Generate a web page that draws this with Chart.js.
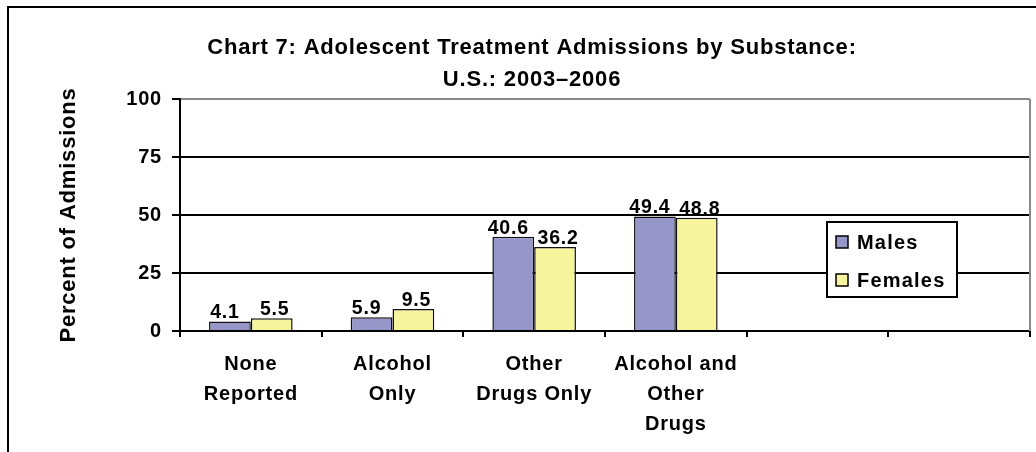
<!DOCTYPE html>
<html>
<head>
<meta charset="utf-8">
<title>Adolescent Treatment Admissions by Substance</title>
<script src="https://cdn.jsdelivr.net/npm/chart.js@4/dist/chart.umd.min.js"></script>
<style>
  html, body { margin: 0; padding: 0; background: #fff; overflow: hidden; }
  #wrap { position: relative; width: 1036px; height: 452px; }
  #frame {
    position: absolute; left: 7px; top: 6px; right: -10px; bottom: -10px;
    border-top: 2px solid #000; border-left: 2px solid #000;
  }
  #chart { position: absolute; left: 0; top: 0; }
</style>
</head>
<body>
<div id="wrap">
  <div id="frame"></div>
  <canvas id="chart" width="1036" height="452"></canvas>
</div>
<script>
// Substance categories (two empty slots on the right hold the legend)
const categories = [
  ['None', 'Reported'],
  ['Alcohol', 'Only'],
  ['Other', 'Drugs Only'],
  ['Alcohol and', 'Other', 'Drugs'],
  '',
  ''
];
const malesPct   = [4.1, 5.9, 40.6, 49.4, null, null];
const femalesPct = [5.5, 9.5, 36.2, 48.8, null, null];
const yTicks = [0, 25, 50, 75, 100];
const titleLines = ['Chart 7: Adolescent Treatment Admissions by Substance:', 'U.S.: 2003\u20132006'];
const yAxisTitle = 'Percent of Admissions';

const FONT = "'Liberation Sans', Arial, Helvetica, sans-serif";
const MALE_COLOR = '#9696C8';
const FEMALE_COLOR = '#F6F49C';
const TRACKING = '0.8px';

// Slightly tracked-out lettering for all chart text
const letterSpacingPlugin = {
  id: 'letterSpacing',
  beforeUpdate(chart) { chart.ctx.letterSpacing = TRACKING; },
  beforeDraw(chart) { chart.ctx.letterSpacing = TRACKING; }
};

// Gray plot-area border on the right side
const plotBorderPlugin = {
  id: 'plotBorder',
  beforeDatasetsDraw(chart) {
    const { ctx, chartArea } = chart;
    ctx.save();
    ctx.strokeStyle = '#8a8a8a';
    ctx.lineWidth = 2;
    ctx.beginPath();
    ctx.moveTo(chartArea.right, chartArea.top);
    ctx.lineTo(chartArea.right, chartArea.bottom);
    ctx.stroke();
    ctx.restore();
  }
};

// Value labels above each bar, nudged apart so neighbours don't collide
const valueLabelPlugin = {
  id: 'valueLabels',
  afterDatasetsDraw(chart, args, opts) {
    const { ctx } = chart;
    ctx.save();
    ctx.font = 'bold 19.5px ' + FONT;
    ctx.fillStyle = '#000';
    ctx.textAlign = 'center';
    ctx.textBaseline = 'alphabetic';
    chart.data.datasets.forEach((ds, di) => {
      const meta = chart.getDatasetMeta(di);
      const dx = opts.nudge[di] || 0;
      meta.data.forEach((bar, i) => {
        const v = ds.data[i];
        if (v === null || v === undefined) return;
        ctx.fillText(v.toFixed(1), bar.x + dx, bar.y - 3);
      });
    });
    ctx.restore();
  }
};

// Boxed legend placed inside the plot area
const boxLegendPlugin = {
  id: 'boxLegend',
  afterDraw(chart, args, opts) {
    const { ctx } = chart;
    const { x, y, w, h, rowGap } = opts;
    ctx.save();
    ctx.fillStyle = '#fff';
    ctx.fillRect(x, y, w, h);
    ctx.strokeStyle = '#000';
    ctx.lineWidth = 2;
    ctx.strokeRect(x, y, w, h);
    ctx.letterSpacing = '1.2px';
    ctx.font = 'bold 20px ' + FONT;
    ctx.textBaseline = 'middle';
    ctx.textAlign = 'left';
    chart.data.datasets.forEach((ds, i) => {
      const cy = y + 20 + i * rowGap;
      ctx.fillStyle = ds.backgroundColor;
      ctx.fillRect(x + 9, cy - 6, 12, 12);
      ctx.lineWidth = 1.5;
      ctx.strokeStyle = '#000';
      ctx.strokeRect(x + 9, cy - 6, 12, 12);
      ctx.fillStyle = '#000';
      ctx.fillText(ds.label, x + 30, cy + 1);
    });
    ctx.restore();
  }
};

new Chart(document.getElementById('chart'), {
  type: 'bar',
  data: {
    labels: categories,
    datasets: [
      {
        label: 'Males',
        data: malesPct,
        backgroundColor: MALE_COLOR,
        borderColor: '#111',
        borderWidth: 1.5
      },
      {
        label: 'Females',
        data: femalesPct,
        backgroundColor: FEMALE_COLOR,
        borderColor: '#111',
        borderWidth: 1.5
      }
    ]
  },
  options: {
    responsive: false,
    animation: false,
    devicePixelRatio: 1,
    categoryPercentage: 0.59,
    barPercentage: 1.0,
    layout: { padding: { left: 34, right: 6, top: 0, bottom: 0 } },
    plugins: {
      legend: { display: false },
      tooltip: { enabled: false },
      title: {
        display: true,
        text: titleLines,
        color: '#000',
        font: { family: FONT, size: 22, weight: 'bold', lineHeight: 32 / 22 },
        padding: { top: 32, bottom: 3 }
      },
      valueLabels: { nudge: [-5, 3] },
      boxLegend: { x: 827, y: 222, w: 130, h: 75, rowGap: 38 }
    },
    scales: {
      x: {
        grid: {
          offset: true,
          drawOnChartArea: false,
          drawTicks: true,
          tickLength: 6,
          color: '#000',
          lineWidth: 2
        },
        border: { color: '#000', width: 2 },
        ticks: {
          color: '#000',
          padding: 12,
          maxRotation: 0,
          minRotation: 0,
          autoSkip: false,
          font: { family: FONT, size: 20, weight: 'bold', lineHeight: 30 / 20 }
        },
        afterFit(scale) { scale.height = 121; }
      },
      y: {
        min: 0,
        max: 100,
        afterBuildTicks(scale) { scale.ticks = yTicks.map(v => ({ value: v })); },
        grid: {
          color: ctx => (ctx.tick && ctx.tick.value === 100 ? '#8a8a8a' : '#000'),
          tickColor: '#000',
          lineWidth: 2,
          tickLength: 8
        },
        border: { color: '#000', width: 2 },
        ticks: {
          color: '#000',
          padding: 10,
          font: { family: FONT, size: 20, weight: 'bold' }
        },
        title: {
          display: true,
          text: yAxisTitle,
          color: '#000',
          font: { family: FONT, size: 22, weight: 'bold', lineHeight: 1.2 },
          padding: { top: 22, bottom: 0 }
        },
        afterFit(scale) { scale.width = 146; }
      }
    }
  },
  plugins: [letterSpacingPlugin, plotBorderPlugin, valueLabelPlugin, boxLegendPlugin]
});
</script>
</body>
</html>
